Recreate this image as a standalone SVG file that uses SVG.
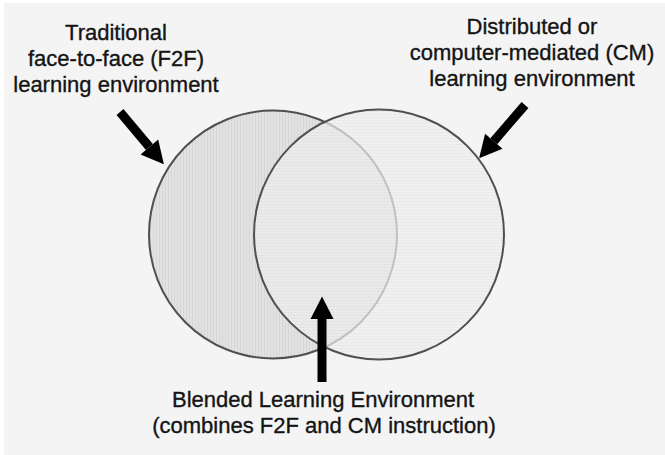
<svg xmlns="http://www.w3.org/2000/svg" width="665" height="455" viewBox="0 0 665 455">
<style>
.lbl{font-family:"Liberation Sans",Arial,sans-serif;font-size:22px;fill:#141414;stroke:#141414;stroke-width:0.35;text-anchor:middle}
.ring{fill:none;stroke:#505050;stroke-width:2}
.shaft{stroke:#000;stroke-width:9;fill:none}
</style>
<defs>
<pattern id="vstripe" width="3" height="3" patternUnits="userSpaceOnUse">
<rect width="3" height="3" fill="#e2e2e2"/>
<rect width="1" height="3" fill="#d6d6d6"/>
</pattern>
<pattern id="hstripe" width="3" height="3" patternUnits="userSpaceOnUse">
<rect width="3" height="3" fill="#efefef"/>
<rect width="3" height="1" fill="#e5e5e5"/>
</pattern>
<marker id="head" markerUnits="userSpaceOnUse" markerWidth="24" markerHeight="26" viewBox="0 -13 24 26" refX="0" refY="0" orient="auto" overflow="visible">
<path d="M0,-11.5 L22.5,0 L0,11.5 z" fill="#000"/>
</marker>
</defs>
<rect width="665" height="455" fill="#ffffff"/>
<rect x="4" y="3" width="661" height="452" fill="#f4f4f4"/>
<g id="f2f-circle">
<circle cx="273" cy="234.5" r="124" fill="url(#vstripe)" stroke="#505050" stroke-width="2"/>
</g>
<g id="cm-circle">
<circle cx="379" cy="234.5" r="125" fill="url(#hstripe)" fill-opacity="0.72" stroke="none"/>
<circle cx="379" cy="234.5" r="125" class="ring"/>
</g>
<g id="label-f2f">
<text class="lbl" x="116" y="40">Traditional</text>
<text class="lbl" x="116" y="66">face-to-face (F2F)</text>
<text class="lbl" x="116" y="92">learning environment</text>
</g>
<g id="label-cm">
<text class="lbl" x="532" y="34">Distributed or</text>
<text class="lbl" x="532" y="60">computer-mediated (CM)</text>
<text class="lbl" x="532" y="86">learning environment</text>
</g>
<g id="label-blended">
<text class="lbl" x="323" y="407">Blended Learning Environment</text>
<text class="lbl" x="324" y="433">(combines F2F and CM instruction)</text>
</g>
<g id="connectors">
<line class="shaft" x1="120" y1="112" x2="149.4" y2="147" marker-end="url(#head)"/>
<line class="shaft" x1="525" y1="105" x2="493.8" y2="141.2" marker-end="url(#head)"/>
<line class="shaft" x1="322" y1="382" x2="322" y2="319" marker-end="url(#head)"/>
</g>
</svg>
